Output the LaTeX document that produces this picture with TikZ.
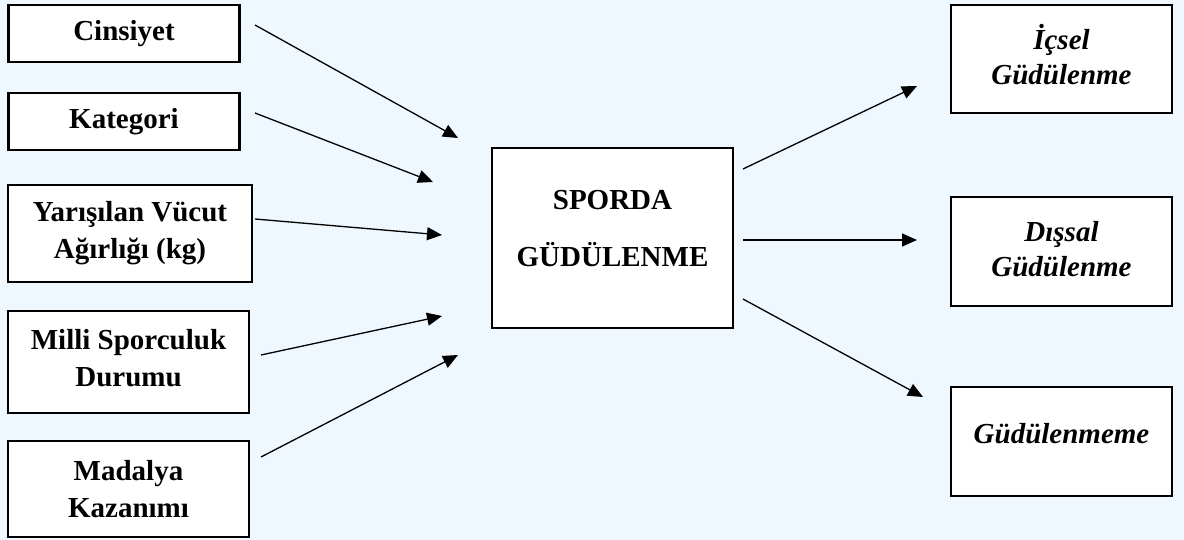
\documentclass[tikz,border=0pt]{standalone}
\usepackage{fontspec}
\setmainfont{Liberation Serif}
\usetikzlibrary{arrows.meta}
\definecolor{bgblue}{RGB}{238,248,254}

\begin{document}
\begin{tikzpicture}
	[
		x = 1pt, y = -1pt,
		box/.style = {draw, line width = 2.5pt, fill = white, align = center, inner sep = 0pt,
			font = \fontsize{29}{37}\selectfont\bfseries},
		factor/.style = {box, minimum width = 231pt},
		motive/.style = {box, minimum width = 221pt, minimum height = 108pt,
			font = \fontsize{29}{35}\selectfont\bfseries\itshape},
		link/.style = {line width = 1.3pt, -{Triangle[length=15pt, width=13pt]}}]

	\fill[bgblue] (0,0) rectangle (1184,540);
	\useasboundingbox (0,0) rectangle (1184,540);

	% factors
	\node[factor, minimum height = 57pt] (cinsiyet) at (124,33.5) {Cinsiyet};
	\node[factor, minimum height = 57pt] (kategori) at (124,121.5) {Kategori};
	\node[factor, minimum width = 244pt, minimum height = 97pt] (agirlik) at (130,233.5) {Yarışılan Vücut\\Ağırlığı (kg)};
	\node[factor, minimum width = 241pt, minimum height = 102pt, text depth = 8pt] (milli) at (128.5,362) {Milli Sporculuk\\Durumu};
	\node[factor, minimum width = 241pt, minimum height = 96pt] (madalya) at (128.5,489) {Madalya\\Kazanımı};

	% centre
	\node[box, minimum width = 241pt, minimum height = 180pt, text depth = 20pt] (sporda) at (612.5,238) {SPORDA\\[20pt]GÜDÜLENME};

	% motivation types
	\node[motive, text depth = 10pt] (icsel) at (1061.5,59) {İçsel\\Güdülenme};
	\node[motive, minimum height = 109pt, text depth = 6pt] (dissal) at (1061.5,251.5) {Dışsal\\Güdülenme};
	\node[motive, minimum height = 109pt, text depth = 16pt] (gudme) at (1061.5,441.5) {Güdülenmeme};

	% arrow ends
	\coordinate (cinsiyet-out) at (255,25);
	\coordinate (kategori-out) at (255,113);
	\coordinate (agirlik-out) at (255,219);
	\coordinate (milli-out) at (261,355);
	\coordinate (madalya-out) at (261,457);
	\coordinate (sporda-in1) at (458,138);
	\coordinate (sporda-in2) at (433,182);
	\coordinate (sporda-in3) at (442,235);
	\coordinate (sporda-in4) at (442,316);
	\coordinate (sporda-in5) at (458,355);
	\coordinate (sporda-out1) at (743,169);
	\coordinate (sporda-out2) at (743,240);
	\coordinate (sporda-out3) at (743,299);
	\coordinate (icsel-in) at (917,86);
	\coordinate (dissal-in) at (917,240);
	\coordinate (gudme-in) at (923,397);

	\draw[link] (cinsiyet-out) -- (sporda-in1);
	\draw[link] (kategori-out) -- (sporda-in2);
	\draw[link] (agirlik-out) -- (sporda-in3);
	\draw[link] (milli-out) -- (sporda-in4);
	\draw[link] (madalya-out) -- (sporda-in5);
	\draw[link] (sporda-out1) -- (icsel-in);
	\draw[link] (sporda-out2) -- (dissal-in);
	\draw[link] (sporda-out3) -- (gudme-in);
\end{tikzpicture}
\end{document}
